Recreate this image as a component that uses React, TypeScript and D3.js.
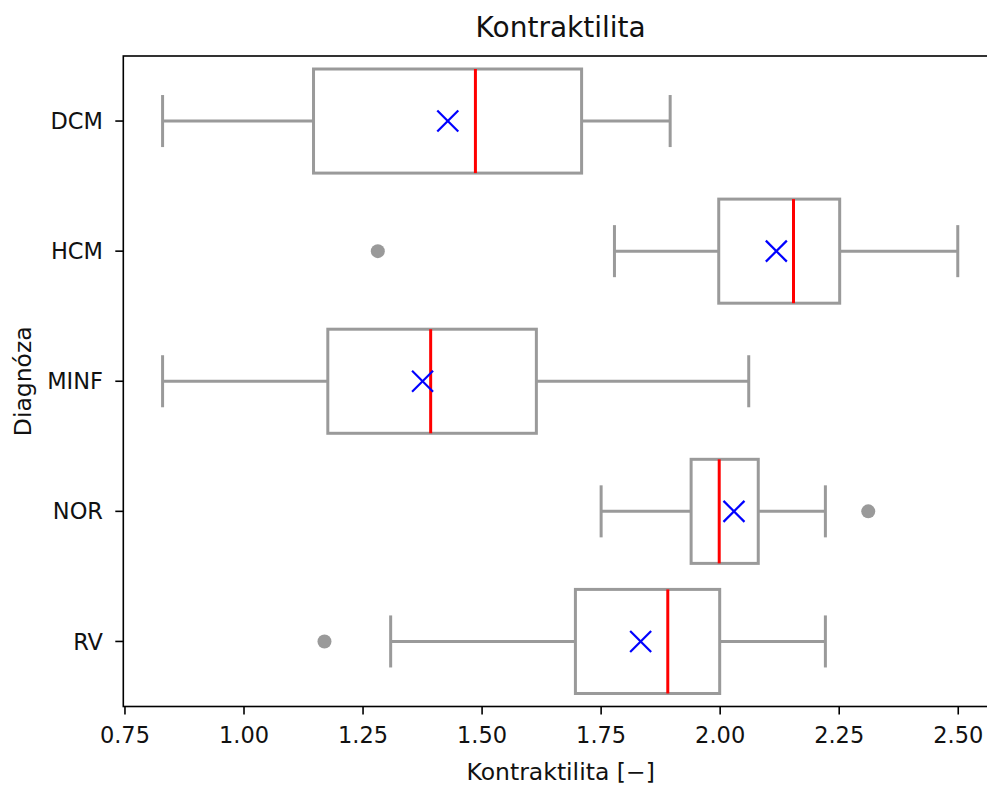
import React from "react";
import * as d3 from "d3";

const categories = ["DCM", "HCM", "MINF", "NOR", "RV"];
const whiskerLow = [0.829, 1.778, 0.829, 1.75, 1.308];
const q1 = [1.146, 1.997, 1.176, 1.939, 1.696];
const medians = [1.486, 2.154, 1.392, 1.998, 1.89];
const q3 = [1.709, 2.251, 1.614, 2.08, 1.999];
const whiskerHigh = [1.895, 2.499, 2.06, 2.221, 2.221];
const means = [1.428, 2.118, 1.375, 2.029, 1.833];
const outliers: number[][] = [[], [1.281], [], [2.311], [1.169]];
const xTicks = [0.75, 1.0, 1.25, 1.5, 1.75, 2.0, 2.25, 2.5];

const W = 987;
const H = 785;
const left = 123.3;
const right = 998;
const top = 56;
const bottom = 706.5;
const font = "'DejaVu Sans', sans-serif";
const gray = "#9a9a9a";

export default function App() {
  const x = d3.scaleLinear().domain([0.7465, 2.5835]).range([left, right]);
  const y = d3.scaleLinear().domain([-0.5, 4.5]).range([top, bottom]);
  const bandH = y(0.4) - y(0);
  const capH = y(0.2) - y(0);
  const fmt = d3.format(".2f");

  return (
    <svg
      width={W}
      height={H}
      style={{ position: "absolute", left: 0, top: 0, background: "#fff" }}
      fontFamily={font}
    >
      <rect x={0} y={0} width={W} height={H} fill="#fff" />
      {categories.map((c, i) => {
        const cy = y(i);
        return (
          <g key={c}>
            <line x1={x(whiskerLow[i])} x2={x(q1[i])} y1={cy} y2={cy} stroke={gray} strokeWidth={3} />
            <line x1={x(q3[i])} x2={x(whiskerHigh[i])} y1={cy} y2={cy} stroke={gray} strokeWidth={3} />
            <line x1={x(whiskerLow[i])} x2={x(whiskerLow[i])} y1={cy - capH} y2={cy + capH} stroke={gray} strokeWidth={3} />
            <line x1={x(whiskerHigh[i])} x2={x(whiskerHigh[i])} y1={cy - capH} y2={cy + capH} stroke={gray} strokeWidth={3} />
            <rect
              x={x(q1[i])}
              y={cy - bandH}
              width={x(q3[i]) - x(q1[i])}
              height={2 * bandH}
              fill="#fff"
              stroke={gray}
              strokeWidth={3}
            />
            <line x1={x(medians[i])} x2={x(medians[i])} y1={cy - bandH} y2={cy + bandH} stroke="#ff0000" strokeWidth={3} />
            {outliers[i].map((o, k) => (
              <circle key={k} cx={x(o)} cy={cy} r={7} fill={gray} />
            ))}
            <g stroke="#0000ff" strokeWidth={2.2}>
              <line x1={x(means[i]) - 10.5} x2={x(means[i]) + 10.5} y1={cy - 10.5} y2={cy + 10.5} />
              <line x1={x(means[i]) - 10.5} x2={x(means[i]) + 10.5} y1={cy + 10.5} y2={cy - 10.5} />
            </g>
          </g>
        );
      })}
      {/* spines */}
      <rect x={left} y={top} width={right - left} height={bottom - top} fill="none" stroke="#000" strokeWidth={1.6} />
      {/* x ticks */}
      {xTicks.map((t) => (
        <g key={t}>
          <line x1={x(t)} x2={x(t)} y1={bottom} y2={bottom + 8} stroke="#000" strokeWidth={1.6} />
          <text x={x(t)} y={743} textAnchor="middle" fontSize={22.5} fill="#111">
            {fmt(t)}
          </text>
        </g>
      ))}
      {/* y ticks */}
      {categories.map((c, i) => (
        <g key={c}>
          <line x1={left - 8} x2={left} y1={y(i)} y2={y(i)} stroke="#000" strokeWidth={1.6} />
          <text x={103} y={y(i)} dy="0.36em" textAnchor="end" fontSize={22.5} fill="#111">
            {c}
          </text>
        </g>
      ))}
      <text x={(left + right) / 2} y={37} textAnchor="middle" fontSize={28} fill="#111">
        Kontraktilita
      </text>
      <text x={(left + right) / 2} y={780} textAnchor="middle" fontSize={23.5} fill="#111">
        Kontraktilita [−]
      </text>
      <text
        transform={`translate(31, ${(top + bottom) / 2}) rotate(-90)`}
        textAnchor="middle"
        fontSize={23.5}
        fill="#111"
      >
        Diagnóza
      </text>
    </svg>
  );
}
